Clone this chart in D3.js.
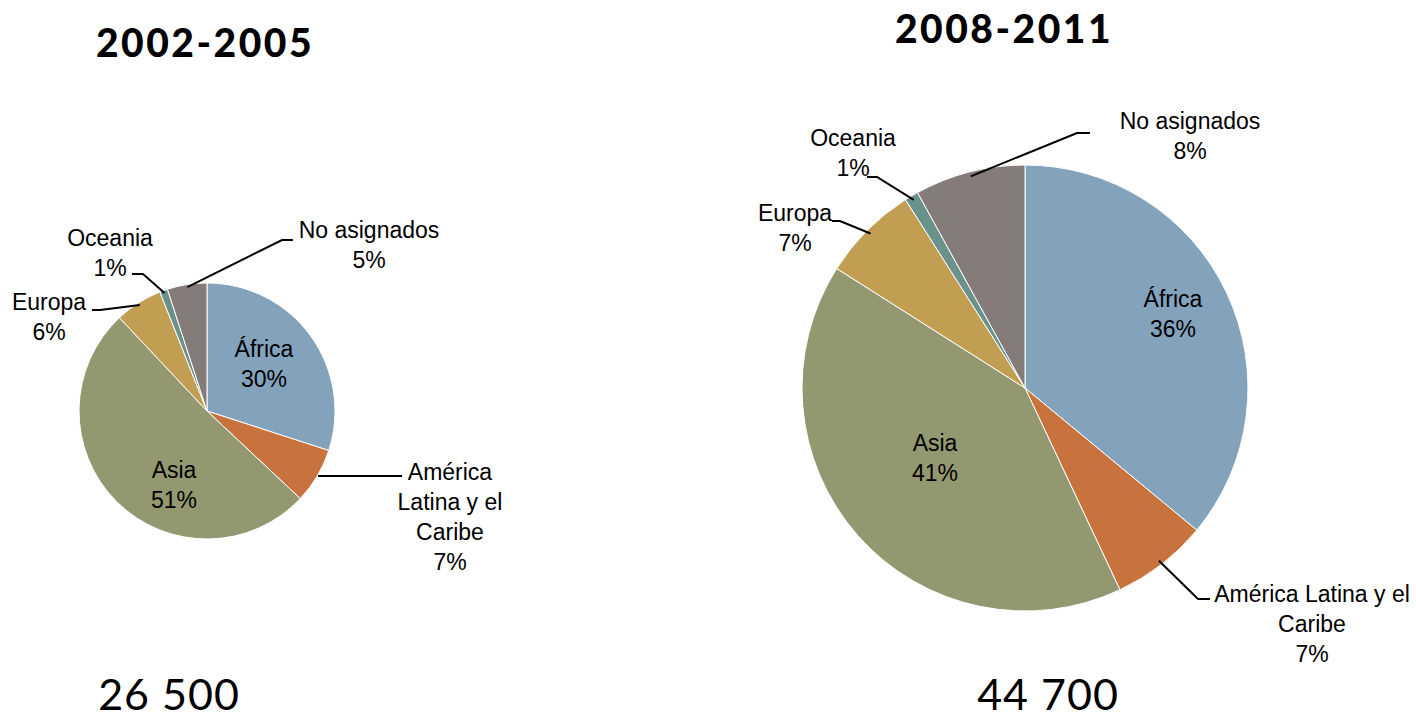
<!DOCTYPE html>
<html>
<head>
<meta charset="utf-8">
<script src="https://cdn.jsdelivr.net/npm/d3@7"></script>
<style>
  body { margin: 0; background: #fff; }
  svg text { fill: #000; }
</style>
</head>
<body>
<script>
// chart data
var regions = ['África', 'América Latina y el Caribe', 'Asia', 'Europa', 'Oceania', 'No asignados'];
var values2002 = [30, 7, 51, 6, 1, 5];
var values2008 = [36, 7, 41, 7, 1, 8];
var titles = ['2002-2005', '2008-2011'];
var totals = ['26 500', '44 700'];
var colors = ['#83a3bd', '#c8733d', '#939871', '#c19e52', '#6a918a', '#857b79'];

var width = 1416, height = 720;
var labelFont = "'Liberation Sans Narrow', 'Liberation Sans', Arial, sans-serif";
var titleFont = "Lato, 'Noto Sans', sans-serif";

// layout for each pie: center, radius, title / total positions,
// and where each label sits (lines of text + optional elbow for leader)
var charts = [
  {
    values: values2002, cx: 207, cy: 411, r: 128,
    title: [205, 57], total: [169, 710],
    labels: [
      { lines: ['África', '30%'], x: 264, y: 357 },
      { lines: ['América', 'Latina y el', 'Caribe', '7%'], x: 450, y: 480, elbow: [[402, 476]], end: [318, 476] },
      { lines: ['Asia', '51%'], x: 174, y: 478 },
      { lines: ['Europa', '6%'], x: 49, y: 310, elbow: [[92, 310], [100, 310]] },
      { lines: ['Oceania', '1%'], x: 110, y: 246, elbow: [[132, 274], [143, 274]] },
      { lines: ['No asignados', '5%'], x: 369, y: 238, elbow: [[293, 240], [282, 240]] }
    ]
  },
  {
    values: values2008, cx: 1025, cy: 388, r: 223,
    title: [1004, 43], total: [1048, 710],
    labels: [
      { lines: ['África', '36%'], x: 1173, y: 307 },
      { lines: ['América Latina y el', 'Caribe', '7%'], x: 1312, y: 602, elbow: [[1210, 599], [1198, 599]] },
      { lines: ['Asia', '41%'], x: 935, y: 451 },
      { lines: ['Europa', '7%'], x: 795, y: 221, elbow: [[832, 221], [840, 221]] },
      { lines: ['Oceania', '1%'], x: 853, y: 146, elbow: [[867, 177], [877, 177]] },
      { lines: ['No asignados', '8%'], x: 1190, y: 129, elbow: [[1090, 133], [1077, 133]] }
    ]
  }
];

var svg = d3.select('body')
    .append('svg')
    .attr('width', width)
    .attr('height', height);

var pie = d3.pie().sort(null).value(function(d) { return d; });

charts.forEach(function(c, ci) {
    var arcs = pie(c.values);
    var arc = d3.arc().innerRadius(0).outerRadius(c.r);
    var edge = d3.arc().innerRadius(c.r * 0.98).outerRadius(c.r * 0.98);

    var g = svg.append('g').attr('transform', 'translate(' + c.cx + ',' + c.cy + ')');

    g.selectAll('path.slice')
        .data(arcs)
        .enter().append('path')
        .attr('class', 'slice')
        .attr('d', arc)
        .attr('fill', function(d, i) { return colors[i]; })
        .attr('stroke', '#fff')
        .attr('stroke-width', 1);

    // leader lines for the outside labels
    c.labels.forEach(function(l, i) {
        if (!l.elbow) return;
        var p = edge.centroid(arcs[i]);
        var pts = l.elbow.map(function(e) { return [e[0] - c.cx, e[1] - c.cy]; });
        var start = l.end ? [l.end[0] - c.cx, l.end[1] - c.cy] : p;
        g.append('path')
            .attr('d', d3.line()(pts.concat([start])))
            .attr('fill', 'none')
            .attr('stroke', '#000')
            .attr('stroke-width', 2);
    });

    // labels
    c.labels.forEach(function(l) {
        var t = svg.append('text')
            .attr('x', l.x)
            .attr('y', l.y)
            .attr('text-anchor', 'middle')
            .style('font-family', labelFont)
            .style('font-size', '23px');
        l.lines.forEach(function(s, k) {
            t.append('tspan')
                .attr('x', l.x)
                .attr('dy', k === 0 ? 0 : 30)
                .text(s);
        });
    });

    svg.append('text')
        .attr('x', c.title[0])
        .attr('y', c.title[1])
        .attr('text-anchor', 'middle')
        .style('font-family', titleFont)
        .style('font-weight', 900)
        .style('font-size', '39px')
        .style('letter-spacing', '2.5px')
        .text(titles[ci]);

    svg.append('text')
        .attr('x', c.total[0])
        .attr('y', c.total[1])
        .attr('text-anchor', 'middle')
        .style('font-family', titleFont)
        .style('font-weight', 400)
        .style('font-size', '43px')
        .style('letter-spacing', '1px')
        .text(totals[ci]);
});
</script>
</body>
</html>
